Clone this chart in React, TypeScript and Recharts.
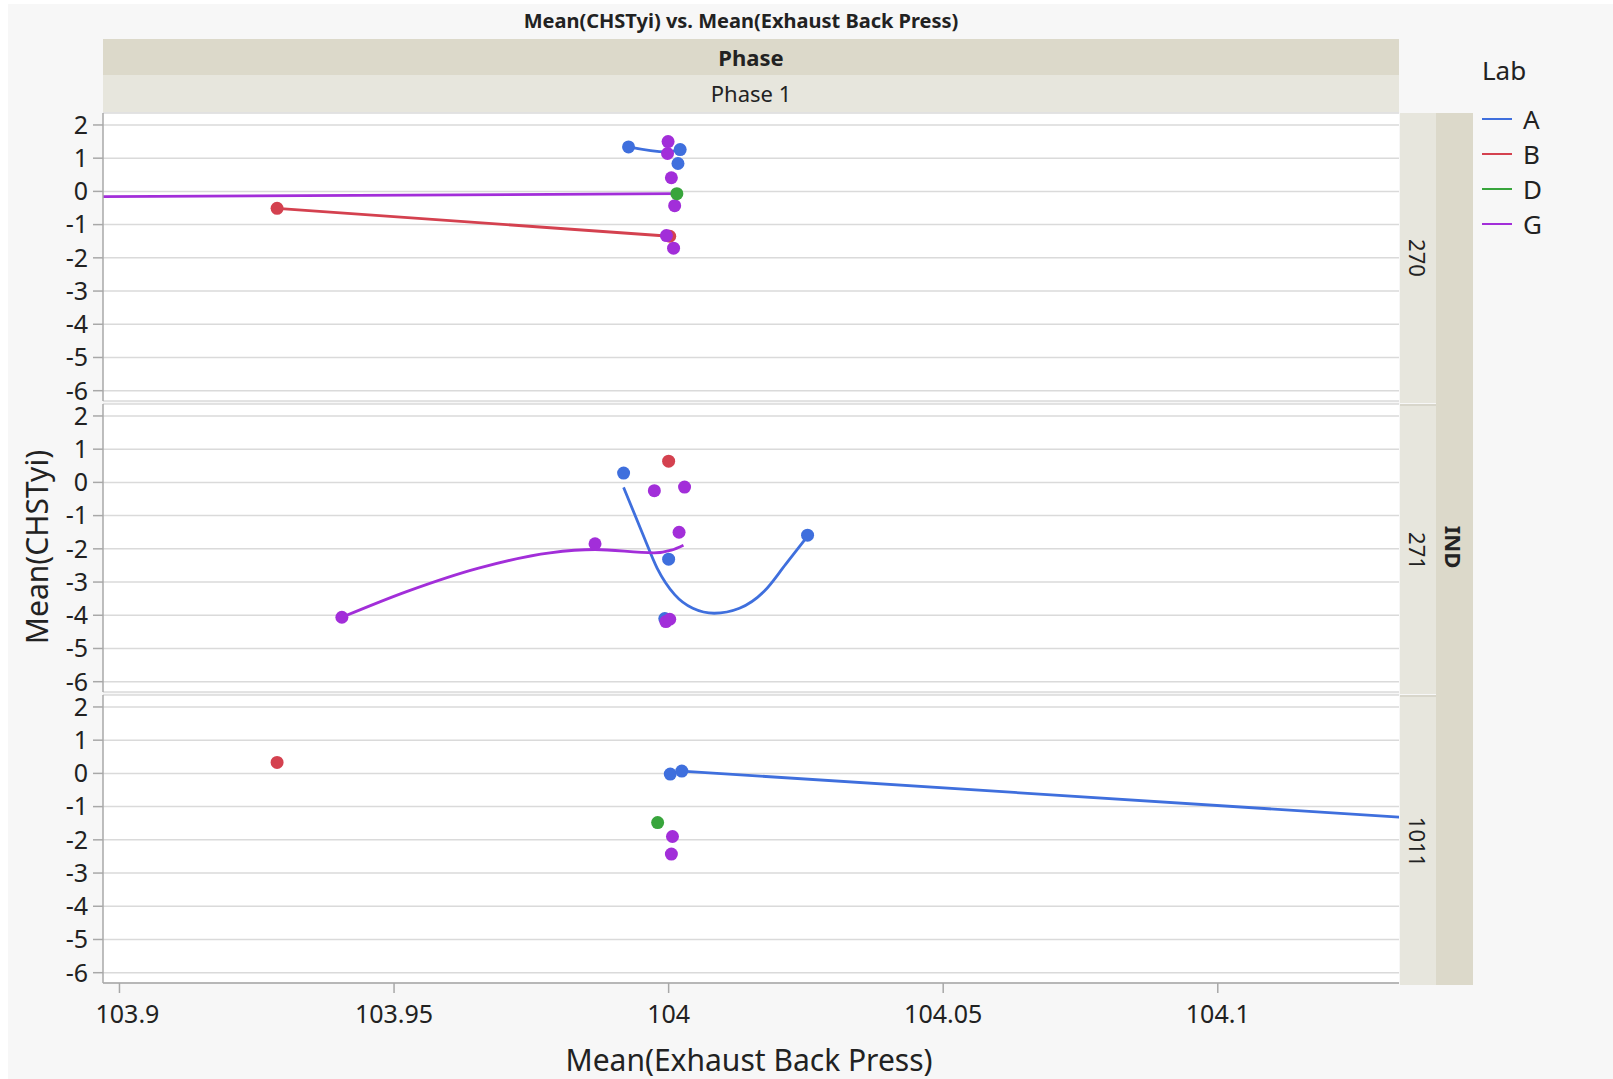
import React from 'react';
import { ComposedChart, Scatter, Line, XAxis, YAxis, CartesianGrid } from 'recharts';

// Lab colours
const labs = ['A', 'B', 'D', 'G'];
const labColors: Record<string, string> = {
  A: '#3f6fdd',
  B: '#d4414f',
  D: '#38a53c',
  G: '#a22ed9',
};

const xTicks = [103.9, 103.95, 104, 104.05, 104.1];
const yTicks = [-6, -5, -4, -3, -2, -1, 0, 1, 2];
const panelLabels = ['270', '271', '1011'];

// IND 270
const pts270A = [{ x: 103.9927, y: 1.34 }, { x: 104.0021, y: 1.26 }, { x: 104.0017, y: 0.84 }];
const pts270B = [{ x: 103.9287, y: -0.51 }, { x: 104.0002, y: -1.35 }];
const pts270D = [{ x: 104.0015, y: -0.07 }];
const pts270G = [
  { x: 103.9999, y: 1.5 }, { x: 103.9998, y: 1.14 }, { x: 104.0005, y: 0.41 },
  { x: 104.0011, y: -0.43 }, { x: 103.9996, y: -1.33 }, { x: 104.0009, y: -1.71 },
];
const line270A = [{ x: 103.9927, y: 1.34 }, { x: 103.9996, y: 1.19 }, { x: 104.0021, y: 1.26 }];
const line270B = [{ x: 103.9287, y: -0.51 }, { x: 104.0002, y: -1.35 }];
const line270G = [{ x: 103.85, y: -0.2 }, { x: 104.0015, y: -0.07 }];

// IND 271
const pts271A = [
  { x: 103.9918, y: 0.28 }, { x: 104.0, y: -2.31 }, { x: 103.9993, y: -4.1 }, { x: 104.0253, y: -1.59 },
];
const pts271B = [{ x: 104.0, y: 0.64 }];
const pts271G = [
  { x: 103.9974, y: -0.25 }, { x: 104.0029, y: -0.14 }, { x: 104.0019, y: -1.5 },
  { x: 103.9866, y: -1.85 }, { x: 103.9405, y: -4.06 }, { x: 103.9995, y: -4.19 }, { x: 104.0002, y: -4.12 },
];
const line271A = [
  { x: 103.9918, y: -0.15 }, { x: 103.9953, y: -1.56 }, { x: 103.9979, y: -2.58 }, { x: 104.0011, y: -3.38 },
  { x: 104.0044, y: -3.79 }, { x: 104.0083, y: -3.94 }, { x: 104.0129, y: -3.79 }, { x: 104.0174, y: -3.28 },
  { x: 104.0213, y: -2.47 }, { x: 104.0253, y: -1.62 },
];
const line271G = [
  { x: 103.9405, y: -4.06 }, { x: 103.9524, y: -3.28 }, { x: 103.9654, y: -2.58 }, { x: 103.9784, y: -2.12 },
  { x: 103.9866, y: -2.02 }, { x: 103.9973, y: -2.12 }, { x: 104.0005, y: -2.04 }, { x: 104.0027, y: -1.89 },
];

// IND 1011
const pts1011A = [{ x: 104.0003, y: -0.02 }, { x: 104.0024, y: 0.07 }];
const pts1011B = [{ x: 103.9287, y: 0.33 }];
const pts1011D = [{ x: 103.998, y: -1.48 }];
const pts1011G = [{ x: 104.0007, y: -1.9 }, { x: 104.0005, y: -2.43 }];
const line1011A = [{ x: 104.0024, y: 0.07 }, { x: 104.2, y: -2.03 }];

const FONT = '"Noto Sans", "Open Sans", sans-serif';
const PANEL_TOPS = [113, 404, 695];
const PANEL_H = 288;
const PAD = 12;

type Pt = { x: number; y: number };
type PanelData = { points: Record<string, Pt[]>; lines: Record<string, Pt[]> };

const panels: PanelData[] = [
  { points: { A: pts270A, B: pts270B, G: pts270G, D: pts270D }, lines: { A: line270A, B: line270B, G: line270G } },
  { points: { A: pts271A, B: pts271B, G: pts271G }, lines: { A: line271A, G: line271G } },
  { points: { A: pts1011A, B: pts1011B, G: pts1011G, D: pts1011D }, lines: { A: line1011A } },
];

const dot = (color: string) => (props: any) => (
  <circle cx={props.cx} cy={props.cy} r={6.5} fill={color} />
);

const XTick = (props: any) => {
  const { x, y, payload } = props;
  const shift = payload.value === 103.9 ? 8 : 0;
  return (
    <text x={x + shift} y={y} dy="0.71em" textAnchor="middle" fontSize={25} fill="#222" fontFamily={FONT}>
      {String(payload.value)}
    </text>
  );
};

const Panel = ({ data, top, showX }: { data: PanelData; top: number; showX: boolean }) => (
  <div style={{ position: 'absolute', left: 0, top: top - PAD }}>
    <ComposedChart
      width={1399}
      height={PANEL_H + PAD * 2 + (showX ? 60 : 0)}
      margin={{ top: PAD, right: 0, bottom: PAD, left: 0 }}
    >
      <CartesianGrid vertical={false} stroke="#dadada" strokeWidth={1.5} fill="#fff" />
      <XAxis
        type="number"
        dataKey="x"
        domain={[103.897, 104.133]}
        ticks={xTicks}
        interval={0}
        allowDataOverflow
        hide={!showX}
        height={60}
        tickSize={10}
        tickMargin={12}
        tick={<XTick />}
        stroke="#a8a8a8"
        strokeWidth={1.5}
      />
      <YAxis
        type="number"
        dataKey="y"
        domain={[-6.31, 2.36]}
        ticks={yTicks}
        interval={0}
        allowDataOverflow
        width={103}
        tickSize={10}
        tickMargin={5}
        tick={{ fontSize: 25, fill: '#222', fontFamily: FONT }}
        stroke="#a8a8a8"
        strokeWidth={1.5}
      />
      {Object.keys(data.lines).map((k) => (
        <Line
          key={'l' + k}
          data={data.lines[k]}
          dataKey="y"
          type="monotone"
          stroke={labColors[k]}
          strokeWidth={2.8}
          dot={false}
          activeDot={false}
          isAnimationActive={false}
        />
      ))}
      {['A', 'B', 'G', 'D'].filter((k) => data.points[k]).map((k) => (
        <Scatter
          key={'p' + k}
          data={data.points[k]}
          dataKey="y"
          fill={labColors[k]}
          shape={dot(labColors[k])}
          isAnimationActive={false}
        />
      ))}
    </ComposedChart>
  </div>
);

const abs = (s: React.CSSProperties): React.CSSProperties => ({ position: 'absolute', ...s });

export default function App() {
  return (
    <div style={abs({ left: 0, top: 0, width: 1613, height: 1079, background: '#fff', fontFamily: FONT, color: '#222' })}>
      <div style={abs({ left: 8, top: 4, width: 1605, height: 1075, background: '#f7f7f7' })} />

      <div style={abs({ left: 341, top: 6, width: 800, textAlign: 'center', fontSize: 20, fontWeight: 700, lineHeight: '30px' })}>
        Mean(CHSTyi) vs. Mean(Exhaust Back Press)
      </div>

      <div style={abs({ left: 103, top: 39, width: 1296, height: 36, background: '#dcd9ca', textAlign: 'center', fontSize: 22, fontWeight: 700, lineHeight: '36px' })}>
        Phase
      </div>
      <div style={abs({ left: 103, top: 75, width: 1296, height: 37, background: '#e7e6dd', textAlign: 'center', fontSize: 22, lineHeight: '37px' })}>
        Phase 1
      </div>

      {PANEL_TOPS.map((t, i) => (
        <div key={'bg' + i} style={abs({ left: 103, top: t, width: 1296, height: PANEL_H, background: '#fff', border: '1px solid #d6d6d6', boxSizing: 'border-box' })} />
      ))}

      {panels.map((p, i) => (
        <Panel key={i} data={p} top={PANEL_TOPS[i]} showX={i === 2} />
      ))}

      {PANEL_TOPS.map((t, i) => (
        <div key={'st' + i} style={abs({ left: 1400, top: t, width: 36, height: PANEL_H + 2, background: '#e7e6dd', borderTop: i > 0 ? '2px solid #d8d6cb' : 'none', boxSizing: 'border-box' })}>
          <div style={abs({ left: 18, top: (PANEL_H + 2) / 2, transform: 'translate(-50%, -50%) rotate(90deg)', fontSize: 22, whiteSpace: 'nowrap' })}>
            {panelLabels[i]}
          </div>
        </div>
      ))}
      <div style={abs({ left: 1436, top: 113, width: 37, height: 872, background: '#dcd9ca' })}>
        <div style={abs({ left: 18, top: 434, transform: 'translate(-50%, -50%) rotate(90deg)', fontSize: 22, fontWeight: 700 })}>
          IND
        </div>
      </div>

      <div style={abs({ left: 36, top: 547, transform: 'translate(-50%, -50%) rotate(-90deg)', fontSize: 30, whiteSpace: 'nowrap' })}>
        Mean(CHSTyi)
      </div>
      <div style={abs({ left: 449, top: 1040, width: 600, textAlign: 'center', fontSize: 30, lineHeight: '40px' })}>
        Mean(Exhaust Back Press)
      </div>

      <div style={abs({ left: 1482, top: 54, fontSize: 26, lineHeight: '32px' })}>Lab</div>
      {labs.map((k, i) => (
        <div key={k} style={abs({ left: 1482, top: 119 + i * 35 - 16, height: 32, display: 'flex', alignItems: 'center' })}>
          <div style={{ width: 30, height: 2.5, background: labColors[k] }} />
          <div style={{ marginLeft: 11, fontSize: 26, lineHeight: '32px' }}>{k}</div>
        </div>
      ))}
    </div>
  );
}
